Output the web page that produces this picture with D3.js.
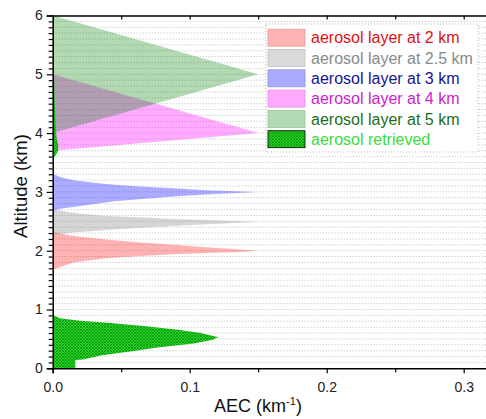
<!DOCTYPE html>
<html>
<head>
<meta charset="utf-8">
<script src="https://cdn.jsdelivr.net/npm/d3@7"></script>
<style>
body { margin: 0; background: #fff; }
svg { display: block; font-family: "Liberation Sans", Arial, sans-serif; }
</style>
</head>
<body>
<svg id="chart" width="486" height="419"></svg>
<script>
// profiles: [altitude (km), AEC (km^-1)]
var layer2km = [[1.67,0],[1.70,0.003],[1.80,0.015],[1.87,0.039],[1.91,0.064],[1.94,0.088],[1.96,0.112],[1.98,0.137],[2.0,0.15],
    [2.02,0.137],[2.06,0.112],[2.10,0.088],[2.14,0.064],[2.19,0.039],[2.25,0.015],[2.32,0]];
var layer25km = [[2.27,0],[2.31,0.015],[2.35,0.039],[2.39,0.064],[2.42,0.088],[2.45,0.112],[2.49,0.15],
    [2.52,0.112],[2.54,0.088],[2.57,0.064],[2.59,0.039],[2.64,0.015],[2.71,0]];
var layer3km = [[2.69,0],[2.72,0.008],[2.76,0.02],[2.80,0.032],[2.84,0.045],[2.88,0.065],[2.92,0.088],[2.96,0.115],[3.0,0.15],
    [3.03,0.112],[3.06,0.088],[3.09,0.064],[3.12,0.045],[3.15,0.032],[3.20,0.015],[3.25,0.006],[3.31,0]];
var layer4km = [[3.7,0],[4.0,0.15],[5.0,0]];
var layer5km = [[4.0,0],[5.0,0.15],[6.0,0]];
var retrieved = [[0,0.0165],[0.14,0.0165],[0.15,0.022],[0.22,0.036],[0.29,0.058],[0.35,0.075],[0.42,0.103],[0.48,0.116],[0.53,0.121],
    [0.60,0.108],[0.66,0.09],[0.72,0.066],[0.77,0.042],[0.81,0.02],[0.85,0.005],[0.90,0.001],[0.95,0],
    [3.55,0],[3.62,0.002],[3.7,0.004],[3.8,0.004],[3.9,0.003],[4.0,0.0025],[4.5,0.0015],[5.0,0.001],[6.0,0.0008]];

var legendNames = ["aerosol layer at 2 km", "aerosol layer at 2.5 km", "aerosol layer at 3 km",
    "aerosol layer at 4 km", "aerosol layer at 5 km", "aerosol retrieved"];
var xTicks = [0, 0.1, 0.2, 0.3];
var yTicks = [0, 1, 2, 3, 4, 5, 6];

var svg = d3.select("#chart");
var marge = {haut: 15.5, gauche: 52.7, bas: 368.3};

var x = d3.scaleLinear().domain([0, 0.32]).range([marge.gauche, marge.gauche + 0.32 * 1370]);
var y = d3.scaleLinear().domain([0, 6]).range([marge.bas, marge.haut]);

var defs = svg.append("defs");
var pat = defs.append("pattern").attr("id", "hatch").attr("patternUnits", "userSpaceOnUse")
    .attr("width", 3).attr("height", 3);
pat.append("rect").attr("width", 3).attr("height", 3).attr("fill", "#26d626");
pat.append("path").attr("d", "M0,0L3,3M3,0L0,3").attr("stroke", "#0a8a0a").attr("stroke-width", 0.7);
defs.append("clipPath").attr("id", "clip").append("rect")
    .attr("x", x(0)).attr("y", y(6)).attr("width", x(0.32) - x(0)).attr("height", y(0) - y(6));

// grid every 0.1 km
var grid = svg.append("g");
grid.selectAll("line").data(y.ticks(60).filter(function(d){ return d > 0 && d < 6; }))
    .enter().append("line")
    .attr("x1", x(0)).attr("x2", x(0.32))
    .attr("y1", function(d){ return y(d); }).attr("y2", function(d){ return y(d); })
    .style("stroke", "#a8a8a8").style("stroke-width", 0.8).style("stroke-dasharray", "1,2");

var aire = d3.area()
    .y(function(d){ return y(d[0]); })
    .x0(x(0))
    .x1(function(d){ return x(d[1]); });

var couches = [
    {data: layer2km, fill: "rgba(255,0,0,0.3)"},
    {data: layer25km, fill: "rgba(128,128,128,0.33)"},
    {data: layer3km, fill: "rgba(0,0,255,0.33)"},
    {data: layer4km, fill: "rgba(255,0,255,0.33)"},
    {data: layer5km, fill: "rgba(0,128,0,0.3)"},
    {data: retrieved, fill: "url(#hatch)"}
];

var plot = svg.append("g").attr("clip-path", "url(#clip)");
plot.selectAll("path").data(couches).enter().append("path")
    .attr("d", function(d){ return aire(d.data); })
    .style("fill", function(d){ return d.fill; })
    .style("stroke", "none");

// axes
var fmtX = d3.format(".1f");
var axeBas = svg.append("g").attr("transform", "translate(0," + y(0) + ")")
    .call(d3.axisBottom(x).tickValues(xTicks).tickSize(5).tickPadding(9).tickFormat(fmtX));
svg.append("g").attr("transform", "translate(0," + y(0) + ")")
    .call(d3.axisBottom(x).tickValues([0.05, 0.15, 0.25]).tickSize(4).tickFormat(""))
    .select(".domain").remove();
var axeHaut = svg.append("g").attr("transform", "translate(0," + y(6) + ")")
    .call(d3.axisTop(x).tickValues([0.05, 0.1, 0.15, 0.2, 0.25, 0.3]).tickSizeInner(-4).tickSizeOuter(0).tickFormat(""));
var axeGauche = svg.append("g").attr("transform", "translate(" + x(0) + ",0)")
    .call(d3.axisLeft(y).tickValues(yTicks).tickSize(6).tickPadding(4).tickFormat(d3.format("d")));
svg.append("g").attr("transform", "translate(" + x(0) + ",0)")
    .call(d3.axisLeft(y).tickValues(y.ticks(60).filter(function(d){ return Math.round(d * 10) % 10 !== 0; }))
        .tickSize(4).tickFormat(""))
    .select(".domain").remove();

svg.selectAll(".domain").style("stroke", "#000").style("stroke-width", 1.5);
svg.selectAll(".tick line").style("stroke", "#000").style("stroke-width", 1.2);
svg.selectAll(".tick text").style("font-family", "Liberation Sans, Arial, sans-serif")
    .style("font-size", "14px").style("fill", "#222");

// axis titles
var titreX = svg.append("text").attr("x", 258).attr("y", 412).attr("text-anchor", "middle")
    .style("font-size", "18px").style("fill", "#111");
titreX.append("tspan").text("AEC (km");
titreX.append("tspan").attr("dy", -7).style("font-size", "11px").text("-1");
titreX.append("tspan").attr("dy", 7).text(")");

svg.append("text").attr("transform", "translate(27,186) rotate(-90)").attr("text-anchor", "middle")
    .style("font-size", "18.5px").style("fill", "#111").text("Altitude (km)");

// legend
var legendStyles = [
    {fill: "#ffb3b3", stroke: "#e59a9a", text: "#dd1111"},
    {fill: "#d9d9d9", stroke: "#c0c0c0", text: "#8a8a8a"},
    {fill: "#aaaaff", stroke: "#8f8fe0", text: "#141490"},
    {fill: "#ffaaff", stroke: "#e590e5", text: "#cc22cc"},
    {fill: "#b3d9b3", stroke: "#99c299", text: "#1d6e1d"},
    {fill: "url(#hatch)", stroke: "#000", text: "#3ddc3d"}
];
var legende = svg.append("g");
legende.append("rect").attr("x", 266).attr("y", 24).attr("width", 212).attr("height", 128)
    .style("fill", "#fff").style("stroke", "#b5b5b5").style("stroke-dasharray", "1,2");
var rangs = legende.selectAll("g.item").data(legendNames).enter().append("g").attr("class", "item")
    .attr("transform", function(d, i){ return "translate(0," + (37.7 + i * 20.3) + ")"; });
rangs.append("rect").attr("x", 268).attr("y", -8.5).attr("width", 37).attr("height", 17)
    .style("fill", function(d, i){ return legendStyles[i].fill; })
    .style("stroke", function(d, i){ return legendStyles[i].stroke; })
    .style("stroke-width", 0.8);
rangs.append("text").attr("x", 311).attr("dy", "0.36em")
    .style("font-size", "16px")
    .style("fill", function(d, i){ return legendStyles[i].text; })
    .text(function(d){ return d; });
</script>
</body>
</html>
